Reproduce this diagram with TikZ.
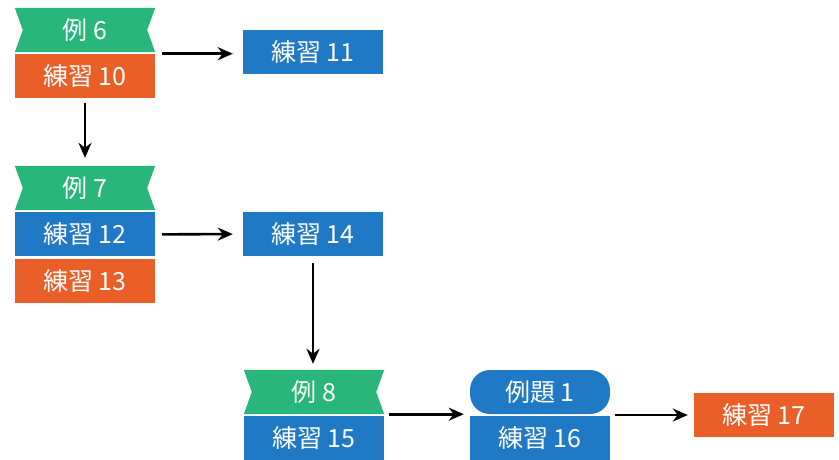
\documentclass[tikz,border=0pt]{standalone}
\usepackage{fontspec}
\newfontfamily\jpfont{Noto Sans CJK JP}
\usetikzlibrary{positioning, arrows.meta, backgrounds}
\definecolor{exGreen}{RGB}{ 40,182,122}
\definecolor{prBlue}{RGB}{ 32,121,196}
\definecolor{prOrange}{RGB}{234, 94, 40}

\begin{document}
\begin{tikzpicture}[x=1pt, y=-1pt,
    box/.style={minimum width=140pt, minimum height=44pt, inner sep=0pt,
                text=white, font=\jpfont\fontsize{25}{25}\selectfont},
    ribbon/.style={box},
    bluebox/.style={box, fill=prBlue},
    orangebox/.style={box, fill=prOrange},
    pill/.style={box, fill=prBlue, rounded corners=20pt},
    arr/.style={-{Stealth[length=15pt, width=13pt]}, line width=2.6pt}
  ]
  \useasboundingbox (0,0) rectangle (839,459);

  % first column
  \node[ribbon] (ex6) at (85,30) {例 6};
  \node[orangebox, below=1.5pt of ex6] (p10) {練習 10};
  \node[bluebox] (p11) at (313,52) {練習 11};

  \node[ribbon] (ex7) at (85,188) {例 7};
  \node[bluebox, below=2pt of ex7] (p12) {練習 12};
  \node[orangebox, below=2.5pt of p12] (p13) {練習 13};
  \node[bluebox] (p14) at (313,234) {練習 14};

  % bottom row
  \node[ribbon] (ex8) at (314,392) {例 8};
  \node[bluebox, below=2pt of ex8] (p15) {練習 15};
  \node[pill] (ex1) at (540,392) {例題 1};
  \node[bluebox, below=2pt of ex1] (p16) {練習 16};
  \node[orangebox] (p17) at (764,415) {練習 17};

  % ribbons with notched ends
  \begin{scope}[on background layer]
    \foreach \n in {ex6, ex7, ex8}
      \fill[exGreen] (\n.north west) -- (\n.north east) -- ([xshift=-8pt]\n.east)
        -- (\n.south east) -- (\n.south west) -- ([xshift=8pt]\n.west) -- cycle;
  \end{scope}

  % arrows
  \draw[arr, shorten <=7pt, shorten >=10pt] (p10.north east) -- (p10.north east -| p11.west);
  \draw[arr, shorten <=5pt, shorten >=8pt] (p10.south) -- (ex7.north);
  \draw[arr, shorten <=7pt, shorten >=10pt] (p12.east) -- (p14.west);
  \draw[arr, shorten <=7pt, shorten >=6pt] (p14.south) -- (p14.south |- ex8.north);
  \draw[arr, shorten <=5pt, shorten >=6pt] (ex8.south east) -- (ex8.south east -| p16.west);
  \draw[arr, shorten <=5pt, shorten >=6pt] (p17.west -| p16.east) -- (p17.west);
\end{tikzpicture}
\end{document}
